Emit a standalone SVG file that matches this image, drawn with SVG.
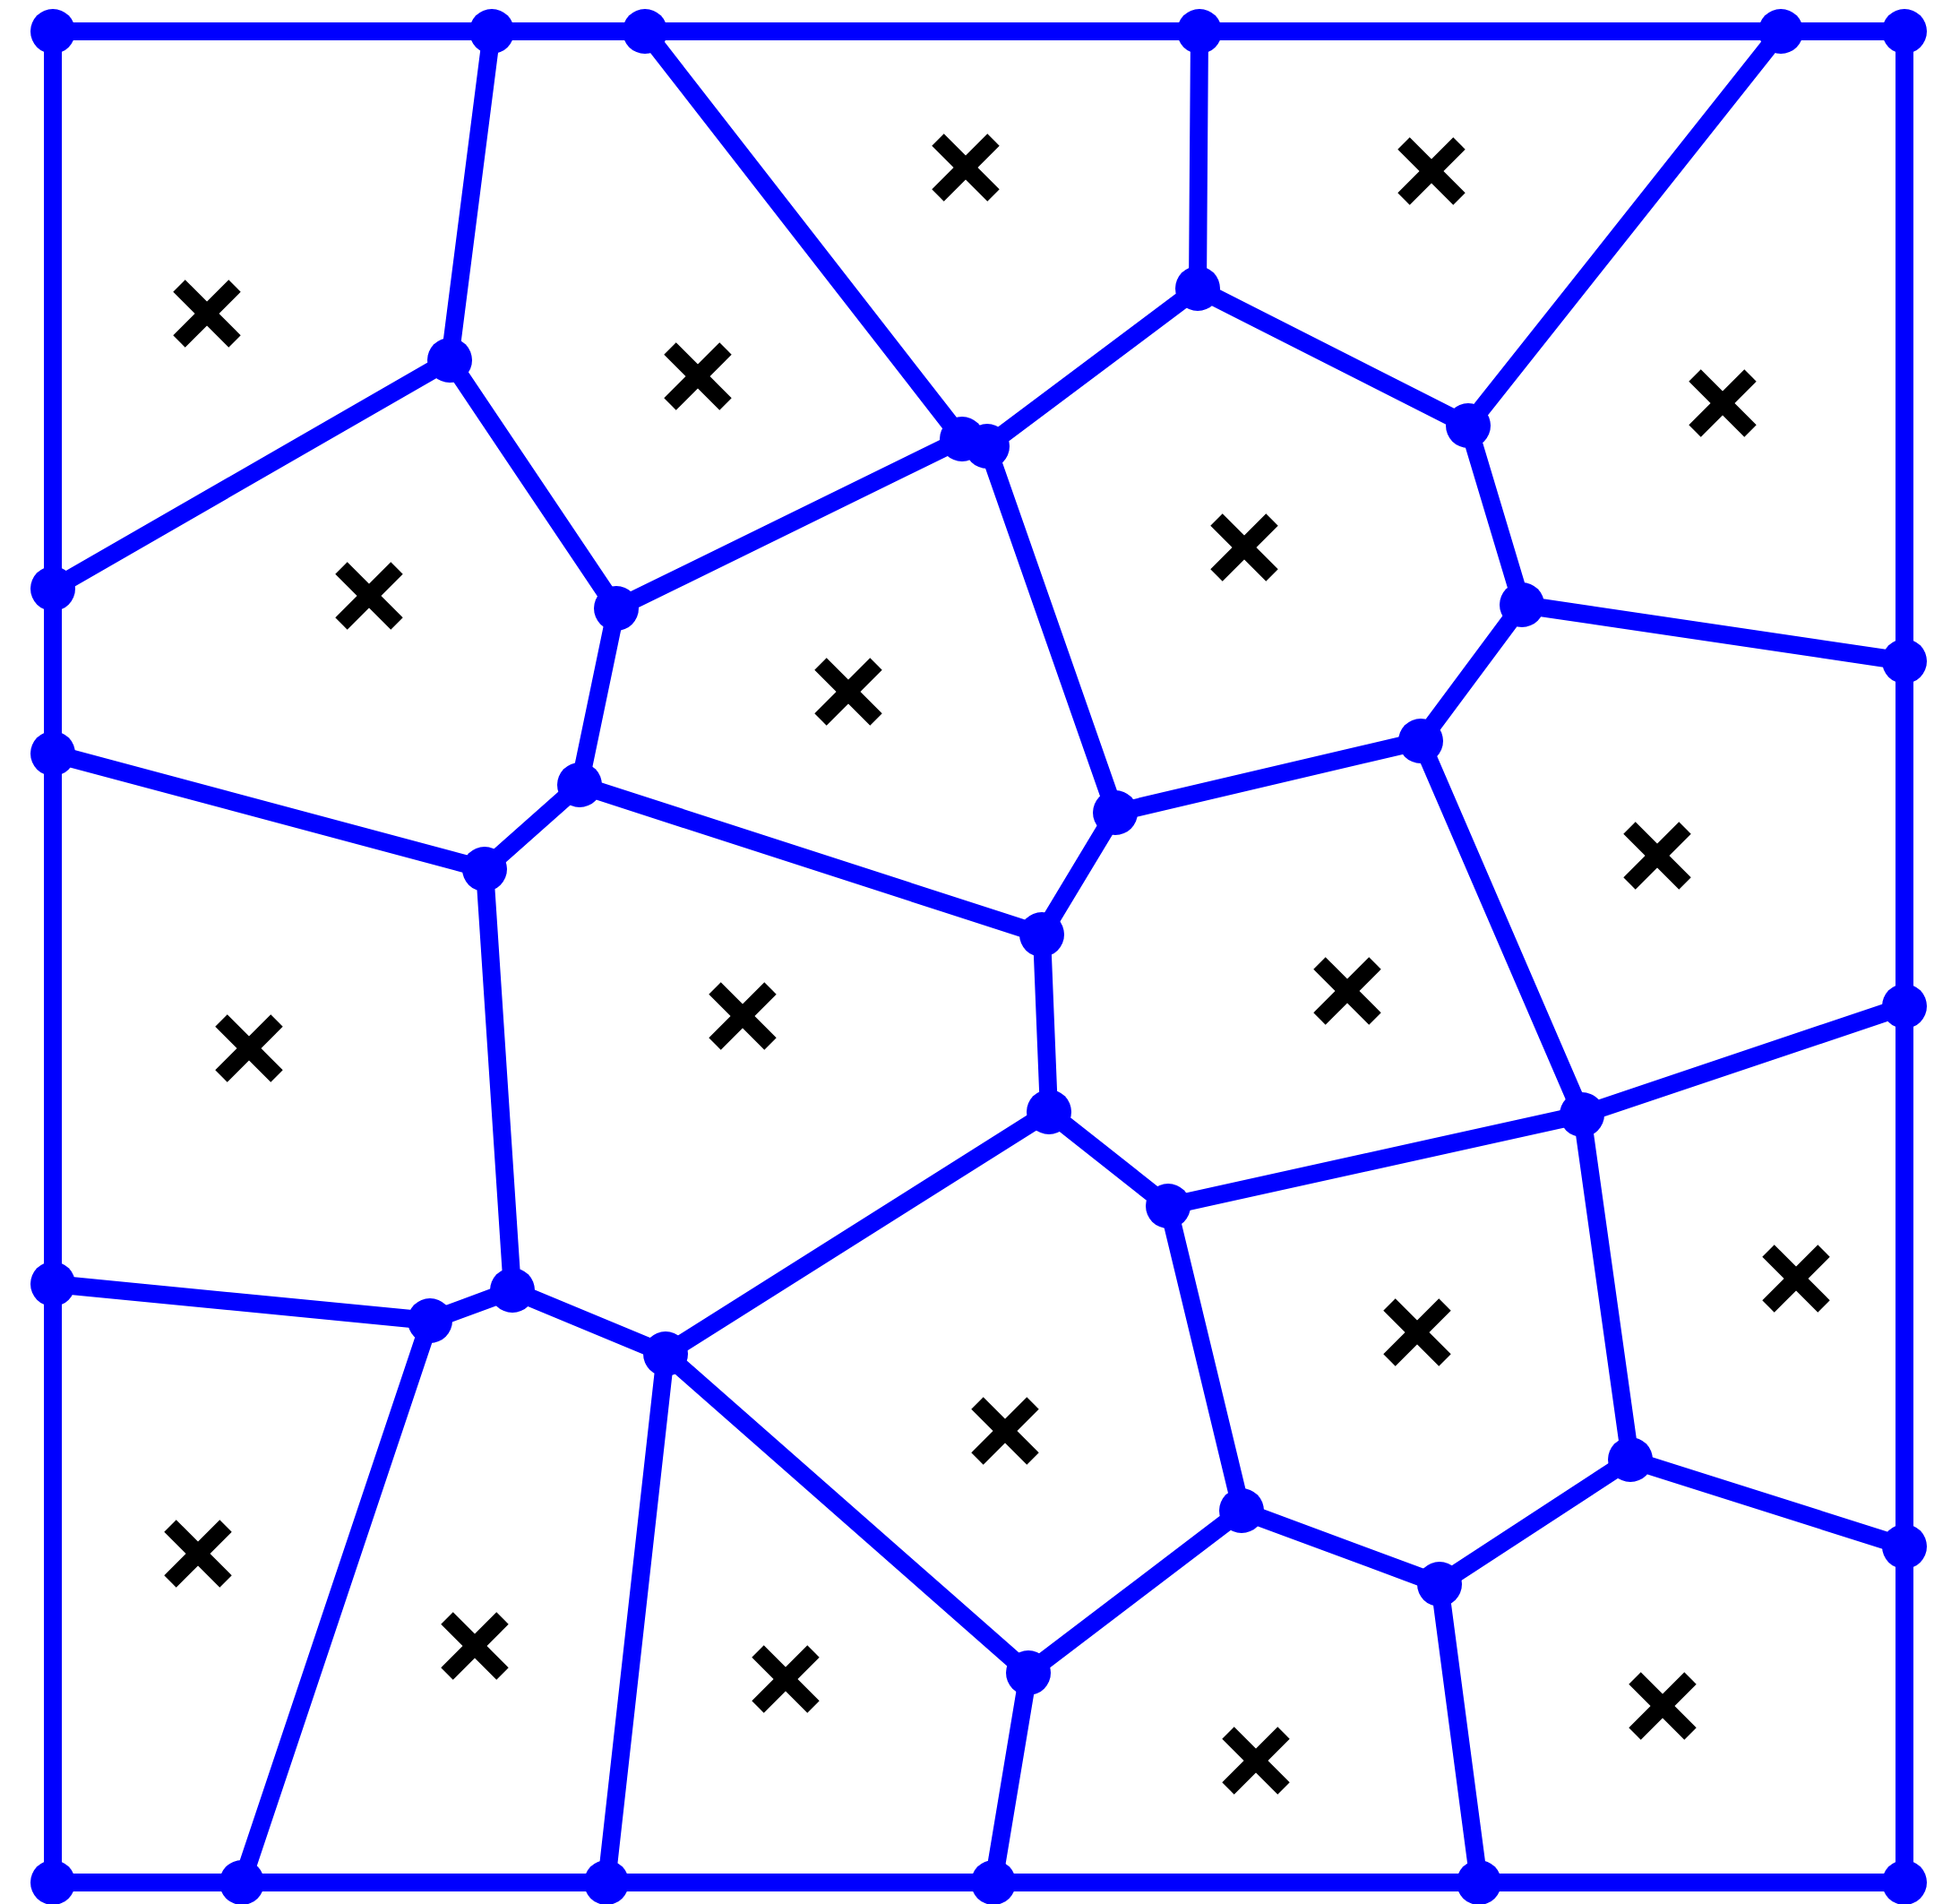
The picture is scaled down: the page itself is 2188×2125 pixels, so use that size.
<svg xmlns="http://www.w3.org/2000/svg" xmlns:xlink="http://www.w3.org/1999/xlink" width="2188" height="2125" viewBox="0 0 2188 2125">
<style>
.e{stroke:#0000FF;stroke-width:20;stroke-linecap:round;fill:none}
.v{fill:#0000FF}
.x{stroke:#000000;stroke-width:19;stroke-linecap:butt;fill:none}
</style>
<defs>
<g id="cross"><line class="x" x1="-31" y1="-31" x2="31" y2="31"/><line class="x" x1="-31" y1="31" x2="31" y2="-31"/></g>
</defs>
<rect width="2188" height="2125" fill="#FFFFFF"/>
<g id="connectors">
<polyline class="e" points="59,35 2126,35 2126,2101 59,2101 59,35"/>
<line class="e" x1="549" y1="35" x2="502" y2="402"/>
<line class="e" x1="720" y1="35" x2="1074" y2="490"/>
<line class="e" x1="1339" y1="35" x2="1337" y2="322"/>
<line class="e" x1="1988" y1="35" x2="1639" y2="475"/>
<line class="e" x1="59" y1="657" x2="502" y2="402"/>
<line class="e" x1="502" y1="402" x2="688" y2="679"/>
<line class="e" x1="688" y1="679" x2="1074" y2="490"/>
<line class="e" x1="1074" y1="490" x2="1102" y2="498"/>
<line class="e" x1="1102" y1="498" x2="1337" y2="322"/>
<line class="e" x1="1337" y1="322" x2="1639" y2="475"/>
<line class="e" x1="1639" y1="475" x2="1699" y2="675"/>
<line class="e" x1="1699" y1="675" x2="2126" y2="738"/>
<line class="e" x1="1699" y1="675" x2="1586" y2="827"/>
<line class="e" x1="1586" y1="827" x2="1245" y2="907"/>
<line class="e" x1="1245" y1="907" x2="1102" y2="498"/>
<line class="e" x1="688" y1="679" x2="647" y2="876"/>
<line class="e" x1="59" y1="841" x2="541" y2="970"/>
<line class="e" x1="541" y1="970" x2="647" y2="876"/>
<line class="e" x1="647" y1="876" x2="1163" y2="1043"/>
<line class="e" x1="1163" y1="1043" x2="1245" y2="907"/>
<line class="e" x1="1163" y1="1043" x2="1171" y2="1241"/>
<line class="e" x1="1586" y1="827" x2="1766" y2="1244"/>
<line class="e" x1="1766" y1="1244" x2="2126" y2="1123"/>
<line class="e" x1="1766" y1="1244" x2="1304" y2="1346"/>
<line class="e" x1="1304" y1="1346" x2="1171" y2="1241"/>
<line class="e" x1="1171" y1="1241" x2="743" y2="1511"/>
<line class="e" x1="541" y1="970" x2="572" y2="1440"/>
<line class="e" x1="59" y1="1433" x2="480" y2="1474"/>
<line class="e" x1="480" y1="1474" x2="572" y2="1440"/>
<line class="e" x1="572" y1="1440" x2="743" y2="1511"/>
<line class="e" x1="480" y1="1474" x2="270" y2="2101"/>
<line class="e" x1="743" y1="1511" x2="677" y2="2101"/>
<line class="e" x1="743" y1="1511" x2="1148" y2="1867"/>
<line class="e" x1="1148" y1="1867" x2="1109" y2="2101"/>
<line class="e" x1="1148" y1="1867" x2="1386" y2="1686"/>
<line class="e" x1="1386" y1="1686" x2="1304" y2="1346"/>
<line class="e" x1="1386" y1="1686" x2="1607" y2="1768"/>
<line class="e" x1="1607" y1="1768" x2="1651" y2="2101"/>
<line class="e" x1="1607" y1="1768" x2="1820" y2="1629"/>
<line class="e" x1="1820" y1="1629" x2="1766" y2="1244"/>
<line class="e" x1="1820" y1="1629" x2="2126" y2="1726"/>
</g>
<g id="vertices">
<g id="v-tl"><circle class="v" cx="59" cy="35" r="25"/></g>
<g id="v-t1"><circle class="v" cx="549" cy="35" r="25"/></g>
<g id="v-t2"><circle class="v" cx="720" cy="35" r="25"/></g>
<g id="v-t3"><circle class="v" cx="1339" cy="35" r="25"/></g>
<g id="v-t4"><circle class="v" cx="1988" cy="35" r="25"/></g>
<g id="v-tr"><circle class="v" cx="2126" cy="35" r="25"/></g>
<g id="v-l1"><circle class="v" cx="59" cy="657" r="25"/></g>
<g id="v-l2"><circle class="v" cx="59" cy="841" r="25"/></g>
<g id="v-l3"><circle class="v" cx="59" cy="1433" r="25"/></g>
<g id="v-bl"><circle class="v" cx="59" cy="2101" r="25"/></g>
<g id="v-b1"><circle class="v" cx="270" cy="2101" r="25"/></g>
<g id="v-b2"><circle class="v" cx="677" cy="2101" r="25"/></g>
<g id="v-b3"><circle class="v" cx="1109" cy="2101" r="25"/></g>
<g id="v-b4"><circle class="v" cx="1651" cy="2101" r="25"/></g>
<g id="v-br"><circle class="v" cx="2126" cy="2101" r="25"/></g>
<g id="v-r1"><circle class="v" cx="2126" cy="738" r="25"/></g>
<g id="v-r2"><circle class="v" cx="2126" cy="1123" r="25"/></g>
<g id="v-r3"><circle class="v" cx="2126" cy="1726" r="25"/></g>
<g id="v-a"><circle class="v" cx="502" cy="402" r="25"/></g>
<g id="v-b"><circle class="v" cx="688" cy="679" r="25"/></g>
<g id="v-c"><circle class="v" cx="647" cy="876" r="25"/></g>
<g id="v-d"><circle class="v" cx="541" cy="970" r="25"/></g>
<g id="v-e1"><circle class="v" cx="1074" cy="490" r="25"/></g>
<g id="v-e2"><circle class="v" cx="1102" cy="498" r="25"/></g>
<g id="v-f"><circle class="v" cx="1337" cy="322" r="25"/></g>
<g id="v-g"><circle class="v" cx="1639" cy="475" r="25"/></g>
<g id="v-h"><circle class="v" cx="1699" cy="675" r="25"/></g>
<g id="v-i"><circle class="v" cx="1586" cy="827" r="25"/></g>
<g id="v-j"><circle class="v" cx="1245" cy="907" r="25"/></g>
<g id="v-k"><circle class="v" cx="1163" cy="1043" r="25"/></g>
<g id="v-l"><circle class="v" cx="1171" cy="1241" r="25"/></g>
<g id="v-m"><circle class="v" cx="1304" cy="1346" r="25"/></g>
<g id="v-n"><circle class="v" cx="1766" cy="1244" r="25"/></g>
<g id="v-o"><circle class="v" cx="1820" cy="1629" r="25"/></g>
<g id="v-p"><circle class="v" cx="1607" cy="1768" r="25"/></g>
<g id="v-q"><circle class="v" cx="1386" cy="1686" r="25"/></g>
<g id="v-r"><circle class="v" cx="1148" cy="1867" r="25"/></g>
<g id="v-s"><circle class="v" cx="743" cy="1511" r="25"/></g>
<g id="v-t"><circle class="v" cx="572" cy="1440" r="25"/></g>
<g id="v-u"><circle class="v" cx="480" cy="1474" r="25"/></g>
</g>
<g id="sites">
<g id="s1"><use xlink:href="#cross" x="231" y="350"/></g>
<g id="s2"><use xlink:href="#cross" x="412" y="665"/></g>
<g id="s3"><use xlink:href="#cross" x="1078" y="187"/></g>
<g id="s4"><use xlink:href="#cross" x="779" y="420"/></g>
<g id="s5"><use xlink:href="#cross" x="1389" y="611"/></g>
<g id="s6"><use xlink:href="#cross" x="1598" y="191"/></g>
<g id="s7"><use xlink:href="#cross" x="1923" y="450"/></g>
<g id="s8"><use xlink:href="#cross" x="1850" y="955"/></g>
<g id="s9"><use xlink:href="#cross" x="1504" y="1106"/></g>
<g id="s10"><use xlink:href="#cross" x="947" y="772"/></g>
<g id="s11"><use xlink:href="#cross" x="829" y="1134"/></g>
<g id="s12"><use xlink:href="#cross" x="278" y="1170"/></g>
<g id="s13"><use xlink:href="#cross" x="2005" y="1427"/></g>
<g id="s14"><use xlink:href="#cross" x="221" y="1734"/></g>
<g id="s15"><use xlink:href="#cross" x="530" y="1837"/></g>
<g id="s16"><use xlink:href="#cross" x="1122" y="1597"/></g>
<g id="s17"><use xlink:href="#cross" x="877" y="1874"/></g>
<g id="s18"><use xlink:href="#cross" x="1402" y="1965"/></g>
<g id="s19"><use xlink:href="#cross" x="1582" y="1487"/></g>
<g id="s20"><use xlink:href="#cross" x="1856" y="1904"/></g>
</g>
</svg>
